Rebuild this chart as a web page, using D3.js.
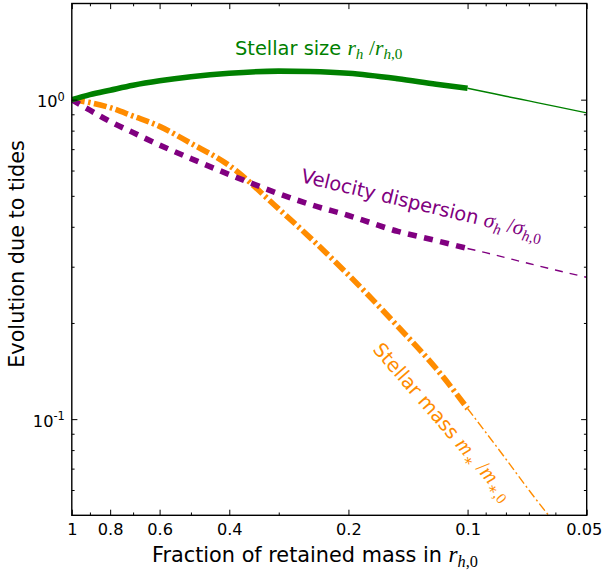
<!DOCTYPE html>
<html>
<head>
<meta charset="utf-8">
<script src="https://cdn.jsdelivr.net/npm/d3@7"></script>
<style>
  html, body { margin: 0; padding: 0; background: #fff; }
  svg { display: block; }
</style>
</head>
<body>
<svg id="chart" width="604" height="572"></svg>
<script>
// Fraction of stellar mass retained inside r_h,0 (thick part of each track)
const massFrac   = [1, 0.9, 0.8, 0.7, 0.6, 0.5, 0.4, 0.3, 0.25, 0.2, 0.15, 0.12, 0.1];
const sizeRatio  = [1.00, 1.037, 1.071, 1.110, 1.146, 1.180, 1.210, 1.228, 1.225, 1.210, 1.163, 1.118, 1.086];
const dispRatio  = [1.00, 0.927, 0.854, 0.789, 0.721, 0.654, 0.583, 0.508, 0.470, 0.434, 0.387, 0.362, 0.342];
const stMassRatio= [1.00, 0.979, 0.944, 0.888, 0.825, 0.730, 0.622, 0.455, 0.370, 0.283, 0.195, 0.144, 0.108];

// Extrapolated continuation of the tracks (thin lines)
const tailFrac      = [0.1, 0.09, 0.08, 0.07, 0.06, 0.05];
const sizeTail      = [1.086, 1.057, 1.025, 0.991, 0.953, 0.909];
const dispTail      = [0.342, 0.332, 0.320, 0.307, 0.293, 0.278];
const stMassTailFrac= [0.1, 0.09, 0.08, 0.07, 0.06];
const stMassTail    = [0.108, 0.091, 0.075, 0.060, 0.047];

// Axis ticks
const xMajor = [1, 0.8, 0.6, 0.4, 0.2, 0.1, 0.05];
const xTickLabels = ["1", "0.8", "0.6", "0.4", "0.2", "0.1", "0.05"];
const xMinor = [0.9, 0.7, 0.5, 0.3, 0.09, 0.08, 0.07, 0.06];
const yMajor = [1, 0.1];
const yTickBase = ["10", "10"];
const yTickExp  = ["0", "-1"];
const yMinor = [0.9, 0.8, 0.7, 0.6, 0.5, 0.4, 0.3, 0.2, 0.09, 0.08, 0.07, 0.06];

const GREEN = "#008000", PURPLE = "#800080", ORANGE = "#ff8c00";
const SANS = "'DejaVu Sans', sans-serif";
const MATH = "'Liberation Serif', 'DejaVu Serif', serif";

const svg = d3.select("#chart");
const box = { left: 71.8, right: 586.7, top: 3.5, bottom: 515.3 };

const x = d3.scaleLog().domain([1, 0.05]).range([box.left, box.right]);
const y = d3.scaleLog().domain([0.05, 2]).range([box.bottom, box.top]);

svg.append("defs").append("clipPath").attr("id", "plotClip")
  .append("rect")
  .attr("x", box.left).attr("y", box.top)
  .attr("width", box.right - box.left).attr("height", box.bottom - box.top);

// ---- curves ----
const line = d3.line()
  .x(d => x(d[0]))
  .y(d => y(d[1]))
  .curve(d3.curveMonotoneX);

const zip = (a, b) => a.map((v, i) => [v, b[i]]);
const plot = svg.append("g").attr("clip-path", "url(#plotClip)");

function track(pts, color, width, dash) {
  plot.append("path")
    .attr("d", line(pts))
    .attr("fill", "none")
    .attr("stroke", color)
    .attr("stroke-width", width)
    .attr("stroke-linecap", "butt")
    .attr("stroke-linejoin", "round")
    .attr("stroke-dasharray", dash);
}

// thin extrapolations
track(zip(tailFrac, sizeTail), GREEN, 1.4, null);
track(zip(tailFrac, dispTail), PURPLE, 1.4, "8,7");
track(zip(stMassTailFrac, stMassTail), ORANGE, 1.4, "9,3,2,3");

// thick tracks
track(zip(massFrac, stMassRatio), ORANGE, 5.6, "13,3.5,2.5,3.5");
track(zip(massFrac, dispRatio), PURPLE, 5.6, "9,7.5");
track(zip(massFrac, sizeRatio), GREEN, 5.6, null);

// ---- axes ----
const MAJ = 5.6, MIN = 2.8;
function styleAxis(g) {
  g.select(".domain").remove();
  g.selectAll(".tick line").attr("stroke", "#000").attr("stroke-width", 1);
}

svg.append("g").attr("transform", `translate(0,${box.bottom})`)
  .call(d3.axisBottom(x).tickValues(xMajor).tickSizeInner(-MAJ).tickSizeOuter(0)
    .tickPadding(8.6).tickFormat((d, i) => xTickLabels[i]))
  .call(styleAxis)
  .call(g => g.selectAll("text").attr("font-family", SANS).attr("font-size", 16.2).attr("fill", "#000"))
  // keep the last label inside the figure edge
  .call(g => g.selectAll(".tick").filter(d => d === 0.05).select("text").attr("dx", -3));

svg.append("g").attr("transform", `translate(0,${box.bottom})`)
  .call(d3.axisBottom(x).tickValues(xMinor).tickSizeInner(-MIN).tickSizeOuter(0).tickFormat(""))
  .call(styleAxis);

svg.append("g").attr("transform", `translate(0,${box.top})`)
  .call(d3.axisTop(x).tickValues(xMajor).tickSizeInner(-MAJ).tickSizeOuter(0).tickFormat(""))
  .call(styleAxis);
svg.append("g").attr("transform", `translate(0,${box.top})`)
  .call(d3.axisTop(x).tickValues(xMinor).tickSizeInner(-MIN).tickSizeOuter(0).tickFormat(""))
  .call(styleAxis);

const yLeft = svg.append("g").attr("transform", `translate(${box.left},0)`)
  .call(d3.axisLeft(y).tickValues(yMajor).tickSizeInner(-MAJ).tickSizeOuter(0).tickPadding(7).tickFormat(""))
  .call(styleAxis);
yLeft.selectAll(".tick text").each(function(d, i) {
  const t = d3.select(this)
    .attr("font-family", SANS).attr("font-size", 16.2).attr("fill", "#000")
    .attr("dy", 7);
  t.append("tspan").text(yTickBase[i]);
  t.append("tspan").attr("font-size", 11.4).attr("dy", -6.5).text(yTickExp[i]);
});

svg.append("g").attr("transform", `translate(${box.left},0)`)
  .call(d3.axisLeft(y).tickValues(yMinor).tickSizeInner(-MIN).tickSizeOuter(0).tickFormat(""))
  .call(styleAxis);
svg.append("g").attr("transform", `translate(${box.right},0)`)
  .call(d3.axisRight(y).tickValues(yMajor).tickSizeInner(-MAJ).tickSizeOuter(0).tickFormat(""))
  .call(styleAxis);
svg.append("g").attr("transform", `translate(${box.right},0)`)
  .call(d3.axisRight(y).tickValues(yMinor).tickSizeInner(-MIN).tickSizeOuter(0).tickFormat(""))
  .call(styleAxis);

// frame
svg.append("rect")
  .attr("x", box.left).attr("y", box.top)
  .attr("width", box.right - box.left).attr("height", box.bottom - box.top)
  .attr("fill", "none").attr("stroke", "#000").attr("stroke-width", 1.4);

// ---- text with inline math ----
// parts: {t, m: italic math, r: upright math, s: subscript}
function richText(parent, parts, size) {
  const text = parent.append("text")
    .attr("font-family", SANS).attr("font-size", size);
  const mSize = size * 1.12;
  let off = 0;
  parts.forEach(p => {
    const ts = text.append("tspan").text(p.t);
    if (p.m || p.r) ts.attr("font-family", MATH).attr("font-size", mSize);
    if (p.m) ts.attr("font-style", "italic");
    const target = p.s ? size * 0.25 : 0;
    if (p.s) ts.attr("font-size", mSize * 0.7);
    if (target !== off) { ts.attr("dy", target - off); off = target; }
  });
  return text;
}

const LBL = 19.4;

richText(svg.append("g").attr("transform", "translate(235,54.5)"), [
  { t: "Stellar size " },
  { t: "r", m: 1 }, { t: "h", m: 1, s: 1 },
  { t: " /", r: 1 },
  { t: "r", m: 1 }, { t: "h", m: 1, s: 1 }, { t: ",0", r: 1, s: 1 }
], LBL).attr("fill", GREEN);

richText(svg.append("g").attr("transform", "translate(300,182) rotate(13.5)"), [
  { t: "Velocity dispersion " },
  { t: "σ", m: 1 }, { t: "h", m: 1, s: 1 },
  { t: " /", r: 1 },
  { t: "σ", m: 1 }, { t: "h", m: 1, s: 1 }, { t: ",0", r: 1, s: 1 }
], LBL).attr("fill", PURPLE);

richText(svg.append("g").attr("transform", "translate(372,350) rotate(49)"), [
  { t: "Stellar mass " },
  { t: "m", m: 1 }, { t: "∗", r: 1, s: 1 },
  { t: " /", r: 1 },
  { t: "m", m: 1 }, { t: "∗,0", r: 1, s: 1 }
], LBL).attr("fill", ORANGE);

// axis titles
richText(svg.append("g").attr("transform", "translate(152,561.5)"), [
  { t: "Fraction of retained mass in " },
  { t: "r", m: 1 }, { t: "h", m: 1, s: 1 }, { t: ",0", r: 1, s: 1 }
], 20.8).attr("fill", "#000");

svg.append("text")
  .attr("transform", "translate(24,254) rotate(-90)")
  .attr("text-anchor", "middle")
  .attr("font-family", SANS).attr("font-size", 20.8).attr("fill", "#000")
  .text("Evolution due to tides");
</script>
</body>
</html>
